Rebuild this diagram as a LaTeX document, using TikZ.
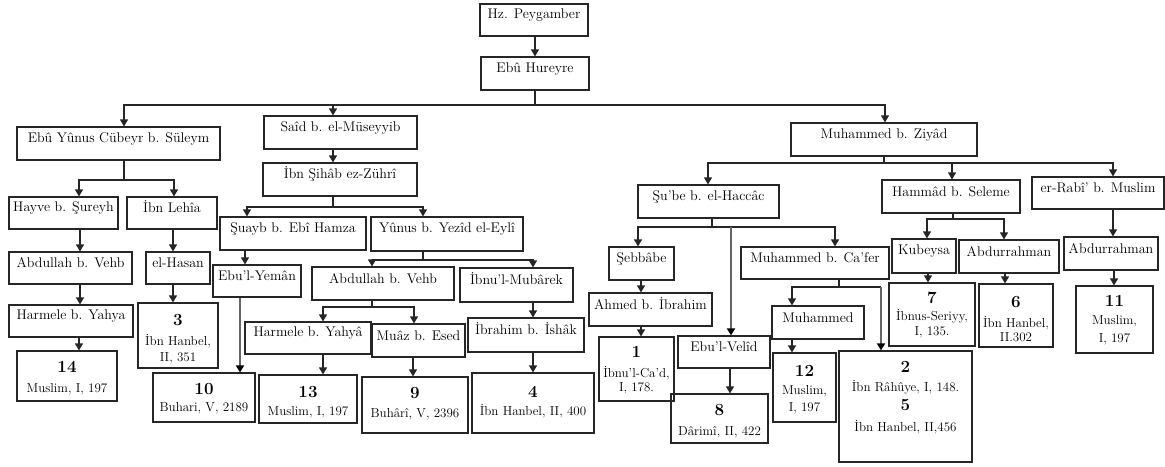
\documentclass[tikz,border=0pt]{standalone}
\usepackage{fontspec}
\usetikzlibrary{arrows.meta,fit}
\newcommand\resnum[1]{{\fontsize{17}{17}\selectfont\bfseries #1}}
\newcommand\citef{\fontsize{13}{17}\selectfont}
\tikzset{
  box/.style={draw=black!85, line width=1.2pt, inner sep=0pt, align=center, font=\fontsize{14}{16}\selectfont},
  rt/.style={align=center, inner sep=0pt, font=\fontsize{13}{17}\selectfont},
  ln/.style={draw=black!85, line width=1.2pt, line join=miter},
  arr/.style={ln, -{Triangle[width=8pt,length=7pt]}},
  garr/.style={draw=black!60, line width=2.6pt, -{Triangle[width=8pt,length=7pt,color=black]}},
}
\begin{document}
\begin{tikzpicture}[x=1pt,y=-1pt]
\fill[white] (0,0) rectangle (1165,466);
\useasboundingbox (0,0) rectangle (1165,466);
% boxes
\node[box,fit={(480,4)(588,36)}] (hz) {Hz. Peygamber};
\node[box,fit={(481,57)(589,90)}] (eh) {Ebû Hureyre};
\node[box,fit={(17,127)(220,160)}] (ey) {Ebû Yûnus Cübeyr b. Süleym};
\node[box,fit={(264,116)(417,149)}] (sa) {Saîd b. el-Müseyyib};
\node[box,fit={(791,123)(977,156)}] (mz) {Muhammed b. Ziyâd};
\node[box,fit={(9,197)(118,229)}] (hs) {Hayve b. Şureyh};
\node[box,fit={(127,197)(217,229)}] (il) {İbn Lehîa};
\node[box,fit={(9,252)(132,284)}] (av1) {Abdullah b. Vehb};
\node[box,fit={(146,252)(210,284)}] (hsn) {el-Hasan};
\node[box,fit={(9,305)(133,337)}] (hy1) {Harmele b. Yahya};
\node[box,fit={(17,351)(117,401)},label={[rt,yshift=-2pt]center:{\resnum{14}\\[3pt]Muslim, I, 197}}] (b14) {};
\node[box,fit={(138,303)(218,368)},label={[rt,yshift=-4pt]center:{\resnum{3}\\[3pt]İbn Hanbel,\\[-1pt]II, 351}}] (b3) {};
\node[box,fit={(263,163)(417,196)}] (is) {İbn Şihâb ez-Zührî};
\node[box,fit={(220,217)(366,250)}] (su) {Şuayb b. Ebî Hamza};
\node[box,fit={(371,217)(523,251)}] (yu) {Yûnus b. Yezîd el-Eylî};
\node[box,fit={(213,265)(301,297)}] (ye) {Ebu’l-Yemân};
\node[box,fit={(312,267)(454,300)}] (av2) {Abdullah b. Vehb};
\node[box,fit={(460,268)(573,302)}] (im) {İbnu’l-Mubârek};
\node[box,fit={(245,322)(371,354)}] (hy2) {Harmele b. Yahyâ};
\node[box,fit={(372,324)(465,357)}] (mu) {Muâz b. Esed};
\node[box,fit={(468,318)(584,352)}] (ii) {İbrahim b. İshâk};
\node[box,fit={(153,373)(255,422)},label={[rt,yshift=-1pt]center:{\resnum{10}\\[0pt]Buhari, V, 2189}}] (b10) {};
\node[box,fit={(259,375)(357,423)},label={[rt,yshift=-3pt]center:{\resnum{13}\\[1pt]Muslim, I, 197}}] (b13) {};
\node[box,fit={(362,377)(468,433)},label={[rt,yshift=1pt]center:{\resnum{9}\\[2pt]Buhârî, V, 2396}}] (b9) {};
\node[box,fit={(472,373)(594,433)},label={[rt,yshift=1pt]center:{\resnum{4}\\[1pt]İbn Hanbel, II, 400}}] (b4) {};
\node[box,fit={(638,185)(779,218)}] (sb) {Şu’be b. el-Haccâc};
\node[box,fit={(609,247)(674,280)}] (seb) {Şebbâbe};
\node[box,fit={(589,293)(712,326)}] (ah) {Ahmed b. İbrahim};
\node[box,fit={(599,337)(674,401)},label={[rt,yshift=-1pt]center:{\resnum{1}\\[3pt]İbnu’l-Ca’d,\\[-3pt]I, 178.}}] (b1) {};
\node[box,fit={(678,336)(770,368)}] (ev) {Ebu’l-Velîd};
\node[box,fit={(671,394)(768,443)},label={[rt,yshift=-3pt]center:{\resnum{8}\\[3pt]Dârimî, II, 422}}] (b8) {};
\node[box,fit={(741,247)(889,279)}] (mc) {Muhammed b. Ca’fer};
\node[box,fit={(772,306)(864,339)}] (mh) {Muhammed};
\node[box,fit={(773,353)(836,422)},label={[rt,yshift=-2pt]center:{\resnum{12}\\[1pt]Muslim,\\[0pt]I, 197}}] (b12) {};
\node[box,fit={(839,351)(972,462)},label={[rt,yshift=9pt]center:{\resnum{2}\\[2pt]İbn Râhûye, I, 148.\\[2pt]\resnum{5}\\[4pt]İbn Hanbel, II,456}}] (b2) {};
\node[box,fit={(882,180)(1020,213)}] (hm) {Hammâd b. Seleme};
\node[box,fit={(1032,177)(1164,209)}] (rb) {er-Rabî’ b. Muslim};
\node[box,fit={(892,239)(956,273)}] (ku) {Kubeysa};
\node[box,fit={(959,240)(1059,273)}] (ar1) {Abdurrahman};
\node[box,fit={(1064,237)(1158,270)}] (ar2) {Abdurrahman};
\node[box,fit={(889,283)(975,346)},label={[rt,yshift=-1pt]center:{\resnum{7}\\[0pt]İbnus-Seriyy,\\[-2pt]I, 135.}}] (b7) {};
\node[box,fit={(979,284)(1053,347)},label={[rt,yshift=-4pt]center:{\resnum{6}\\[3pt]İbn Hanbel,\\[-3pt]II.302}}] (b6) {};
\node[box,fit={(1076,286)(1153,353)},label={[rt,yshift=-1pt]center:{\resnum{11}\\[1pt]Muslim,\\[1pt]I, 197}}] (b11) {};
% connectors
\draw[arr] (535,0 |- hz.south) -- (535,0 |- eh.north);
\coordinate (t1) at (535,105);
\coordinate (t1l) at (124,105);
\coordinate (t1r) at (885,105);
\draw[ln] (535,0 |- eh.south) -- (t1);
\draw[arr] (t1) -- (t1l) -- (t1l |- ey.north);
\draw[arr] (t1) -- (t1r) -- (t1r |- mz.north);
\draw[arr] (333,105) -- (333,0 |- sa.north);
% Ebu Yunus
\coordinate (t2) at (124,180);
\draw[ln] (124,0 |- ey.south) -- (t2);
\draw[arr] (t2) -- (79,180) -- (79,0 |- hs.north);
\draw[arr] (t2) -- (174,180) -- (174,0 |- il.north);
\draw[arr] (80,0 |- hs.south) -- (80,0 |- av1.north);
\draw[arr] (80,0 |- av1.south) -- (80,0 |- hy1.north);
\draw[arr] (79,0 |- hy1.south) -- (79,0 |- b14.north);
\draw[arr] (173,0 |- il.south) -- (173,0 |- hsn.north);
\draw[arr] (173,0 |- hsn.south) -- (173,0 |- b3.north);
% Said
\draw[arr] (333,0 |- sa.south) -- (333,0 |- is.north);
\coordinate (t3) at (333,207);
\draw[ln] (333,0 |- is.south) -- (t3);
\draw[arr] (t3) -- (247,207) -- (247,0 |- su.north);
\draw[arr] (t3) -- (423,207) -- (423,0 |- yu.north);
\draw[arr] (245,0 |- su.south) -- (245,0 |- ye.north);
\draw[garr] (240,0 |- ye.south) -- (240,0 |- b10.north);
\coordinate (t4) at (423,260);
\draw[ln] (423,0 |- yu.south) -- (t4);
\draw[arr] (t4) -- (372,260) -- (372,0 |- av2.north);
\draw[arr] (t4) -- (533,260) -- (533,0 |- im.north);
\coordinate (t5) at (372,307);
\draw[ln] (372,0 |- av2.south) -- (t5);
\draw[arr] (t5) -- (323,307) -- (323,0 |- hy2.north);
\draw[arr] (t5) -- (414,307) -- (414,0 |- mu.north);
\draw[arr] (323,0 |- hy2.south) -- (323,0 |- b13.north);
\draw[arr] (413,0 |- mu.south) -- (413,0 |- b9.north);
\draw[arr] (533,0 |- im.south) -- (533,0 |- ii.north);
\draw[arr] (533,0 |- ii.south) -- (533,0 |- b4.north);
% Ziyad
\coordinate (t6) at (884,163);
\draw[ln] (884,0 |- mz.south) -- (t6);
\draw[arr] (t6) -- (708,163) -- (708,0 |- sb.north);
\draw[arr] (952,163) -- (952,0 |- hm.north);
\draw[arr] (t6) -- (1113,163) -- (1113,0 |- rb.north);
% Su'be
\coordinate (t7) at (712,227);
\draw[ln] (712,0 |- sb.south) -- (t7);
\draw[arr] (t7) -- (638,227) -- (638,0 |- seb.north);
\draw[arr] (t7) -- (835,227) -- (835,0 |- mc.north);
\draw[garr] (731,227) -- (731,0 |- ev.north);
\draw[arr] (641,0 |- seb.south) -- (641,0 |- ah.north);
\draw[arr] (641,0 |- ah.south) -- (641,0 |- b1.north);
\draw[arr] (730,0 |- ev.south) -- (730,0 |- b8.north);
% Ca'fer
\coordinate (t8) at (839,287);
\coordinate (t8r) at (881,287);
\draw[ln] (839,0 |- mc.south) -- (t8);
\draw[arr] (t8) -- (792,287) -- (792,0 |- mh.north);
\draw[ln] (t8) -- (t8r);
\draw[garr] (t8r) -- (t8r |- b2.north);
\draw[arr] (792,0 |- mh.south) -- (792,0 |- b12.north);
% Hammad
\coordinate (t9) at (953,219);
\draw[ln] (953,0 |- hm.south) -- (t9);
\draw[arr] (t9) -- (927,219) -- (927,0 |- ku.north);
\draw[arr] (t9) -- (1004,219) -- (1004,0 |- ar1.north);
\draw[arr] (928,0 |- ku.south) -- (928,0 |- b7.north);
\draw[arr] (1005,0 |- ar1.south) -- (1005,0 |- b6.north);
% Rabi
\draw[arr] (1113,0 |- rb.south) -- (1113,0 |- ar2.north);
\draw[arr] (1114,0 |- ar2.south) -- (1114,0 |- b11.north);
\end{tikzpicture}
\end{document}
